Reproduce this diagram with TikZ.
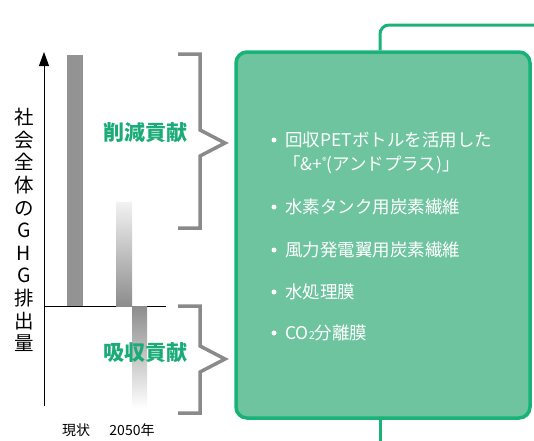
\documentclass[tikz,border=0pt]{standalone}
\usepackage{fontspec}
\setmainfont{Noto Sans CJK JP}
\usetikzlibrary{arrows.meta}
\definecolor{grn}{HTML}{19B37A}
\definecolor{grntxt}{HTML}{1AAB78}
\definecolor{boxfill}{HTML}{6DC49F}
\definecolor{bargray}{HTML}{939393}
\definecolor{brgray}{HTML}{8A8A8A}
\begin{document}
\begin{tikzpicture}[x=1pt,y=-1pt,
  bracketline/.style={draw=brgray,line width=3.5pt,line join=miter},
  greenlabel/.style={text=grntxt,font=\fontsize{21}{24}\selectfont\bfseries,inner sep=0pt},
  itemtext/.style={text=white,font=\fontsize{17.5}{21}\selectfont,anchor=west,inner sep=0pt},
  dot/.style={circle,fill=white,inner sep=0pt,minimum size=5pt},
  axislabel/.style={font=\fontsize{14}{16}\selectfont,inner sep=0pt}]
\useasboundingbox (0,0) rectangle (534,440);
% connectors of the box
\coordinate (topend) at (536,25);
\coordinate (botend) at (380,442);
\node[draw=grn,line width=3.5pt,fill=boxfill,rounded corners=11pt,minimum width=294pt,minimum height=366pt,inner sep=0pt] (box) at (383,235) {};
\draw[grn,line width=3pt,rounded corners=9pt] (box.north -| 380,0) -- (380,25) -- (topend);
\draw[grn,line width=3pt] (box.south -| 380,0) -- (botend);
% axis
\coordinate (axbot) at (44,406);
\coordinate (axtop) at (44,52);
\draw[line width=1pt,-{Triangle[length=14pt,width=10pt]}] (axbot) -- (axtop);
\coordinate (bl) at (44,306);
\coordinate (br) at (166,306);
\draw[line width=1pt] (bl) -- (br);
% bars
\fill[bargray] (67,55) rectangle (83,306);
\shade[top color=black!5,bottom color=black!45] (116,202) rectangle (132,306);
\shade[top color=black!45,bottom color=white] (132,306) rectangle (147,408);
% brackets
\draw[bracketline] (178,54) -- (200,54) -- (200,130) -- (225,143) -- (200,156) -- (200,228) -- (178,228);
\draw[bracketline] (178,306) -- (200,306) -- (200,346) -- (225,359) -- (200,372) -- (200,413) -- (178,413);
% labels
\node[greenlabel] (red) at (145,133) {削減貢献};
\node[greenlabel] (abs) at (145,353) {吸収貢献};
\node[font=\fontsize{19.5}{22.6}\selectfont,align=center,inner sep=0pt] (ylab) at (24,230) {社\\会\\全\\体\\の\\G\\H\\G\\排\\出\\量};
\node[axislabel] (now) at (76,430) {現状};
\node[axislabel] (y2050) at (132,430) {2050年};
% items
\node[dot] (d1) at (274,140) {};
\node[itemtext] (t1) at (285,140) {回収PETボトルを活用した};
\node[itemtext] (t1b) at (283,165) {「\&+\raisebox{6pt}{\fontsize{9}{9}\selectfont ®}(アンドプラス)」};
\node[dot] (d2) at (274,207) {};
\node[itemtext] (t2) at (285,207) {水素タンク用炭素繊維};
\node[dot] (d3) at (274,250) {};
\node[itemtext] (t3) at (285,250) {風力発電翼用炭素繊維};
\node[dot] (d4) at (274,292) {};
\node[itemtext] (t4) at (285,292) {水処理膜};
\node[dot] (d5) at (274,333) {};
\node[itemtext] (t5) at (285,333) {CO{\fontsize{11}{11}\selectfont 2}分離膜};
\end{tikzpicture}
\end{document}
